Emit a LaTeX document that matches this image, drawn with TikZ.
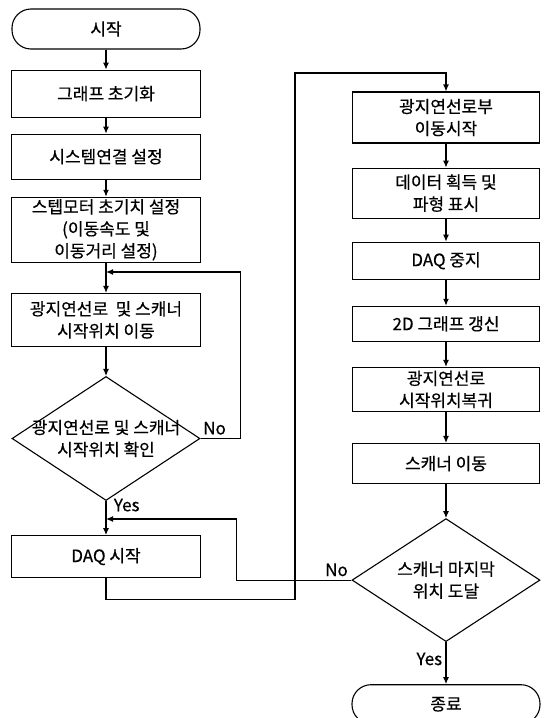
\documentclass[tikz,border=0pt]{standalone}
\usepackage{fontspec}
\setmainfont{Noto Sans CJK KR}[RawFeature={embolden=0.5}]
\usetikzlibrary{arrows.meta, positioning, shapes.geometric}

\begin{document}
\begin{tikzpicture}[
    x=1pt, y=-1pt,
    line width=1.1pt,
    prc/.style={draw, minimum width=189pt, align=center, inner sep=1pt, font=\fontsize{17}{22}\selectfont},
    trm/.style={draw, rounded corners=19pt, minimum width=188pt, minimum height=40pt, font=\fontsize{17}{22}\selectfont},
    dec/.style={draw, diamond, minimum width=188pt, minimum height=124pt, inner sep=0pt},
    dtx/.style={align=center, font=\fontsize{17}{22}\selectfont},
    lbl/.style={font=\fontsize{17}{20}\selectfont},
    >={Latex[length=7pt, width=6pt]}]
  \useasboundingbox (0,0) rectangle (547,718);
  % left column
  \node[trm] (ST) at (106,29) {시작};
  \node[prc, minimum height=47pt, below=20pt of ST] (GI) {그래프 초기화};
  \node[prc, minimum height=45pt, below=16pt of GI] (SC) {시스템연결 설정};
  \node[prc, minimum height=65pt, below=17pt of SC] (MI) {스텝모터 초기치 설정\\(이동속도 및\\이동거리 설정)};
  \node[prc, minimum height=53pt, below=30pt of MI] (MV) {광지연선로 \ 및 스캐너\\시작위치 이동};
  \node[dec, below=29pt of MV, label={[dtx]center:광지연선로 및 스캐너\\시작위치 확인}] (CK) {};
  \node[prc, minimum height=42pt, below=34pt of CK] (DS) {DAQ 시작};
  % right column
  \node[prc, minimum width=187pt, minimum height=51pt] (DM) at (446,117.5) {광지연선로부\\이동시작};
  \node[prc, minimum width=187pt, minimum height=50pt, below=24pt of DM] (DA) {데이터 획득 및\\파형 표시};
  \node[prc, minimum width=187pt, minimum height=37pt, below=23pt of DA] (DQ) {DAQ 중지};
  \node[prc, minimum width=187pt, minimum height=35pt, below=26pt of DQ] (GU) {2D 그래프 갱신};
  \node[prc, minimum width=187pt, minimum height=44pt, below=25pt of GU] (RT) {광지연선로\\시작위치복귀};
  \node[prc, minimum width=187pt, minimum height=40pt, below=31pt of RT] (SM) {스캐너 이동};
  \node[dec, minimum height=123pt, below=34pt of SM, label={[dtx]center:스캐너 마지막\\위치 도달}] (LC) {};
  \node[trm, minimum height=39pt, below=42pt of LC] (EN) {종료};
  % joins
  \coordinate (J1) at (106,272);
  \coordinate (J2) at (106,519);
  \coordinate (T) at (295,73);
  \draw[->] (ST) -- (GI);
  \draw[->] (GI) -- (SC);
  \draw[->] (SC) -- (MI);
  \draw[->] (MI) -- (MV);
  \draw[->] (MV) -- (CK);
  \draw[->] (CK.east) -- node[lbl, above, pos=0.35]{No} ++(40,0) |- (J1);
  \draw[->] (CK.south) -- node[lbl, right, pos=0.12, xshift=4pt]{Yes} (DS);
  \draw[->] (DS.south) -- ++(0,21) -| (T) -| (DM.north);
  \draw[->] (DM) -- (DA);
  \draw[->] (DA) -- (DQ);
  \draw[->] (DQ) -- (GU);
  \draw[->] (GU) -- (RT);
  \draw[->] (RT) -- (SM);
  \draw[->] (SM) -- (LC);
  \draw[->] (LC.west) -- node[lbl, above, pos=0.13]{No} ++(-115,0) |- (J2);
  \draw[->] (LC.south) -- node[lbl, left, pos=0.4]{Yes} (EN);
\end{tikzpicture}
\end{document}
